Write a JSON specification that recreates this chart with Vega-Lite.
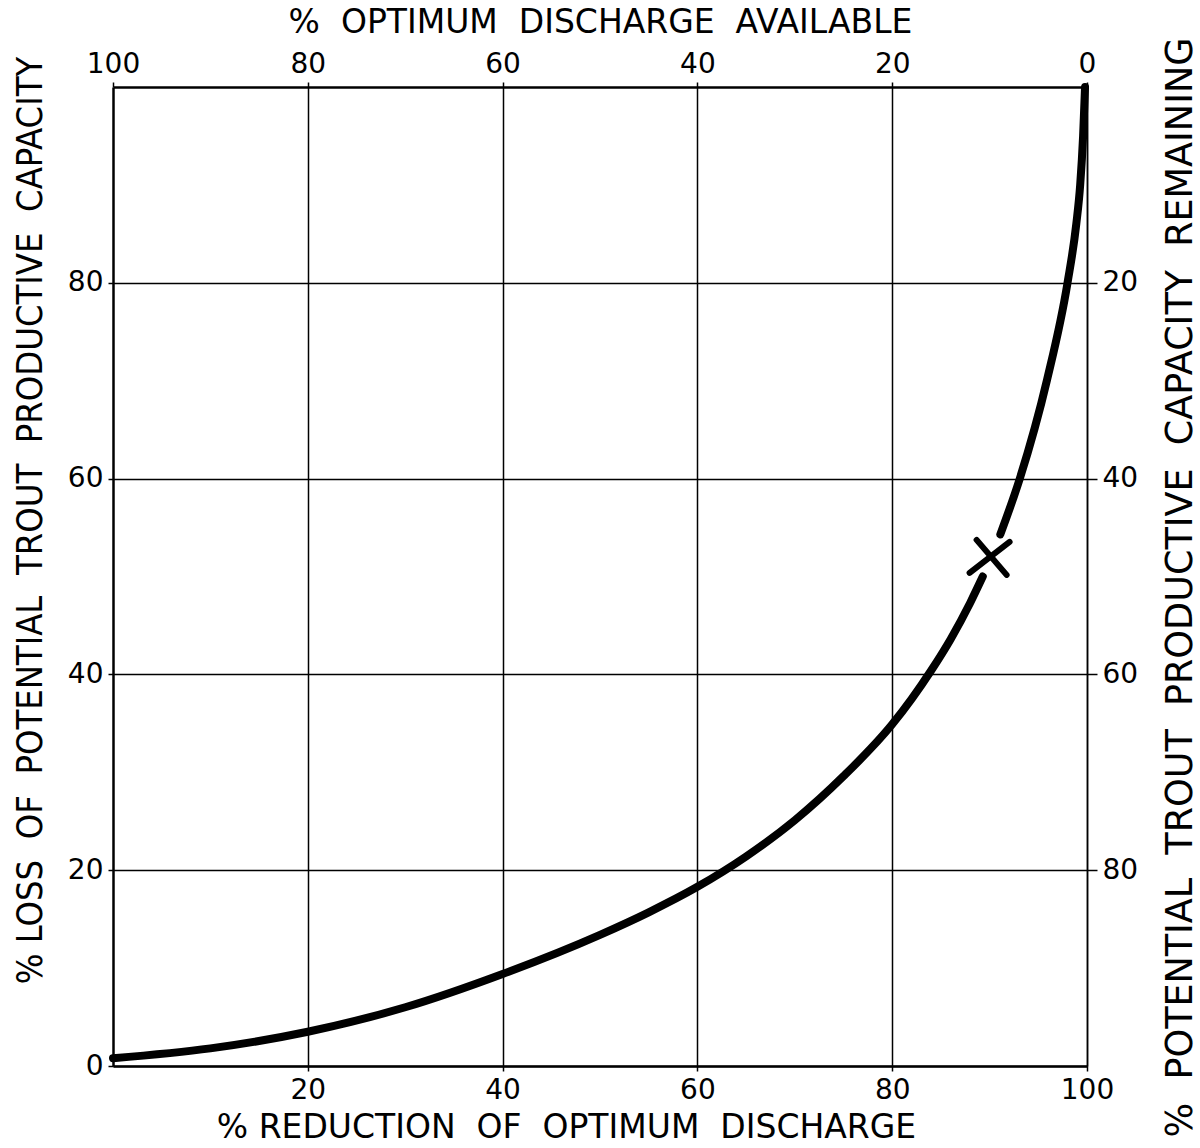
{
  "$schema": "https://vega.github.io/schema/vega-lite/v6.json",
  "autosize": {"type": "none"},
  "padding": {"left": 113, "top": 87, "right": 113, "bottom": 82},
  "width": 974,
  "height": 979,
  "background": "white",
  "config": {
    "view": {"stroke": null},
    "axis": {
      "labelFont": "DejaVu Sans",
      "labelFontSize": 28,
      "labelColor": "black",
      "titleFont": "DejaVu Sans",
      "titleFontWeight": "normal",
      "titleColor": "black",
      "domainColor": "black",
      "tickColor": "black",
      "gridColor": "black",
      "gridOpacity": 1,
      "tickWidth": 1.5
    }
  },
  "datasets": {
    "curve": [
      {"reduction": 0, "loss": 0.8, "seg": "a"},
      {"reduction": 10, "loss": 1.8, "seg": "a"},
      {"reduction": 20, "loss": 3.5, "seg": "a"},
      {"reduction": 30, "loss": 6.0, "seg": "a"},
      {"reduction": 40, "loss": 9.4, "seg": "a"},
      {"reduction": 50, "loss": 13.4, "seg": "a"},
      {"reduction": 55, "loss": 15.7, "seg": "a"},
      {"reduction": 60, "loss": 18.3, "seg": "a"},
      {"reduction": 65, "loss": 21.4, "seg": "a"},
      {"reduction": 70, "loss": 25.1, "seg": "a"},
      {"reduction": 75, "loss": 29.6, "seg": "a"},
      {"reduction": 80, "loss": 34.9, "seg": "a"},
      {"reduction": 82, "loss": 37.5, "seg": "a"},
      {"reduction": 84, "loss": 40.4, "seg": "a"},
      {"reduction": 86, "loss": 43.6, "seg": "a"},
      {"reduction": 88, "loss": 47.3, "seg": "a"},
      {"reduction": 89.3, "loss": 50.0, "seg": "a"},
      {"reduction": 91.1, "loss": 54.3, "seg": "b"},
      {"reduction": 93.1, "loss": 60, "seg": "b"},
      {"reduction": 95.9, "loss": 70.1, "seg": "b"},
      {"reduction": 98.0, "loss": 80, "seg": "b"},
      {"reduction": 98.9, "loss": 86, "seg": "b"},
      {"reduction": 99.3, "loss": 90, "seg": "b"},
      {"reduction": 99.6, "loss": 95, "seg": "b"},
      {"reduction": 99.8, "loss": 100, "seg": "b"}
    ],
    "marker": [
      {"reduction": 90, "loss": 52}
    ]
  },
  "layer": [
    {
      "data": {"name": "curve"},
      "mark": {"type": "line", "color": "black", "strokeWidth": 8, "strokeCap": "round", "interpolate": "monotone"},
      "encoding": {
        "x": {
          "field": "reduction", "type": "quantitative",
          "scale": {"domain": [0, 100], "nice": false, "zero": false},
          "axis": {
            "orient": "bottom",
            "title": "%\u00a0REDUCTION\u00a0\u00a0OF\u00a0\u00a0OPTIMUM\u00a0\u00a0DISCHARGE",
            "titleFontSize": 33,
            "titleX": 453, "titleY": 61,
            "titleAlign": "center", "titleBaseline": "middle",
            "values": [20, 40, 60, 80, 100],
            "grid": true, "gridWidth": 1.5,
            "domainWidth": 2.5,
            "tickSize": 5, "labelPadding": 5,
            "labelFlush": false, "labelOverlap": false
          }
        },
        "y": {
          "field": "loss", "type": "quantitative",
          "scale": {"domain": [0, 100], "nice": false, "zero": false},
          "axis": {
            "orient": "left",
            "title": "%\u00a0LOSS\u00a0\u00a0OF\u00a0\u00a0POTENTIAL\u00a0\u00a0TROUT\u00a0\u00a0PRODUCTIVE\u00a0\u00a0CAPACITY",
            "titleFont": "DejaVu Sans Condensed, Liberation Sans Narrow, DejaVu Sans",
            "titleFontSize": 36,
            "titleX": -83, "titleY": 433,
            "titleAngle": -90,
            "titleAlign": "center", "titleBaseline": "middle",
            "values": [0, 20, 40, 60, 80],
            "grid": true, "gridWidth": 1.5,
            "domainWidth": 2.5,
            "tickSize": 5, "labelPadding": 5,
            "labelFlush": false, "labelOverlap": false
          }
        },
        "detail": {"field": "seg", "type": "nominal"}
      }
    },
    {
      "data": {"name": "marker"},
      "mark": {
        "type": "point",
        "shape": "M-0.65,-0.85L0.85,0.9M-1,0.8L1,-0.75",
        "size": 1600,
        "filled": false,
        "stroke": "black",
        "strokeWidth": 6,
        "strokeCap": "round",
        "opacity": 1
      },
      "encoding": {
        "x": {
          "field": "reduction", "type": "quantitative",
          "axis": {
            "orient": "top",
            "title": "%\u00a0\u00a0OPTIMUM\u00a0\u00a0DISCHARGE\u00a0\u00a0AVAILABLE",
            "titleFontSize": 33,
            "titleX": 487, "titleY": -65,
            "titleAlign": "center", "titleBaseline": "middle",
            "values": [0, 20, 40, 60, 80, 100],
            "labelExpr": "100 - datum.value",
            "grid": false,
            "domainWidth": 2.5,
            "tickSize": 5, "labelPadding": 4,
            "labelFlush": false, "labelOverlap": false
          }
        },
        "y": {
          "field": "loss", "type": "quantitative",
          "axis": {
            "orient": "right",
            "title": "%\u00a0\u00a0POTENTIAL\u00a0\u00a0TROUT\u00a0\u00a0PRODUCTIVE\u00a0\u00a0CAPACITY\u00a0\u00a0REMAINING",
            "titleFontSize": 36.5,
            "titleX": 93, "titleY": 500,
            "titleAngle": -90,
            "titleAlign": "center", "titleBaseline": "middle",
            "values": [20, 40, 60, 80],
            "labelExpr": "100 - datum.value",
            "grid": false,
            "domainWidth": 1.5,
            "tickSize": 10, "labelPadding": 5,
            "labelFlush": false, "labelOverlap": false
          }
        }
      }
    }
  ],
  "resolve": {"axis": {"x": "independent", "y": "independent"}}
}
